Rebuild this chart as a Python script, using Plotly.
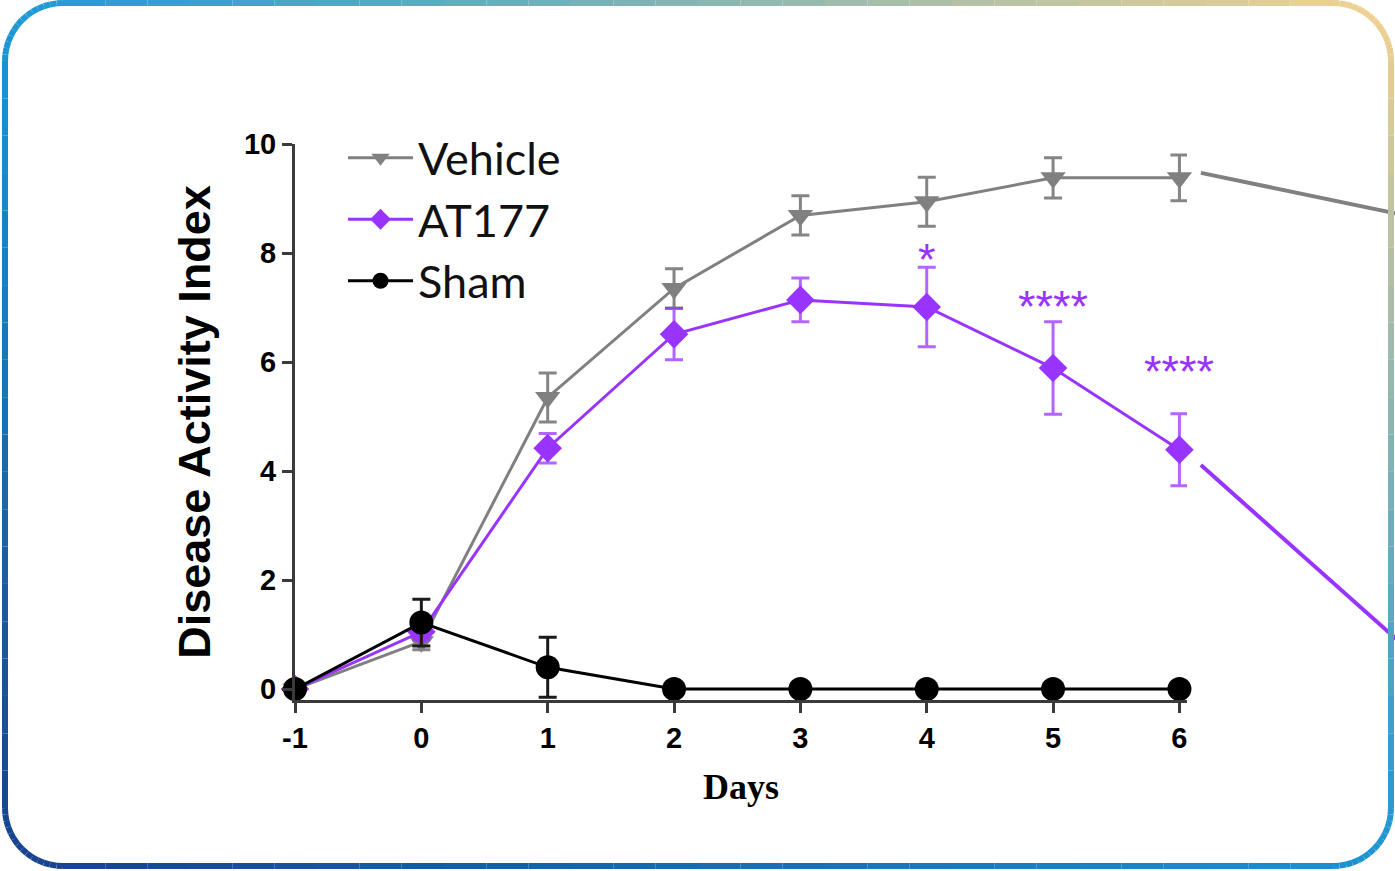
import plotly.graph_objects as go
import math

# ---------------- data ----------------
days = [-1, 0, 1, 2, 3, 4, 5, 6]
day_ticks = ["-1", "0", "1", "2", "3", "4", "5", "6"]

vehicle = [0.0, 0.87, 5.35, 7.35, 8.69, 8.94, 9.38, 9.38]
vehicle_err = [0.0, 0.15, 0.45, 0.36, 0.36, 0.45, 0.37, 0.42]

at177 = [0.0, 1.05, 4.42, 6.51, 7.14, 7.01, 5.89, 4.39]
at177_err = [0.0, 0.15, 0.27, 0.47, 0.40, 0.73, 0.85, 0.66]

sham = [0.0, 1.22, 0.40, 0.0, 0.0, 0.0, 0.0, 0.0]
sham_err = [0.0, 0.43, 0.55, 0.0, 0.0, 0.0, 0.0, 0.0]

sig_days = [4, 5, 6]
sig_labels = ["*", "****", "****"]
sig_y = [8.02, 7.17, 5.98]

# continuation strokes leaving the panel on the right
cont_x = [6.17, 7.75]
vehicle_cont = [9.47, 8.71]
at177_cont = [4.11, 0.85]

yticks = [0, 2, 4, 6, 8, 10]

# ---------------- style ----------------
GRAY = "#808080"
PURPLE = "#9933ff"
BLACK = "#000000"
AXIS = "#3a3a3a"

W, H = 1395, 871
ML, MR, MT, MB = 295, 208, 144, 171
XR = [-1, 6.06]
YR = [-0.2, 10]
PW, PH = W - ML - MR, H - MT - MB

fig = go.Figure()

def add_series(name, y, err, color, symbol, size, ecolor):
    fig.add_trace(go.Scatter(
        x=days, y=y, name=name, mode="lines+markers",
        line=dict(color=color, width=3),
        marker=dict(symbol=symbol, size=size, color=color),
        error_y=dict(type="data", array=err, visible=True, color=ecolor,
                     thickness=3, width=9),
        cliponaxis=False,
    ))

add_series("Vehicle", vehicle, vehicle_err, GRAY, "triangle-down", 22, "#858585")
add_series("AT177", at177, at177_err, PURPLE, "diamond", 22, "rgba(153,51,255,0.75)")
add_series("Sham", sham, sham_err, BLACK, "circle", 24, "#1a1a1a")

for d, lab, yy in zip(sig_days, sig_labels, sig_y):
    fig.add_annotation(x=d, y=yy, text=lab, showarrow=False, yanchor="middle",
                       yshift=-8,
                       font=dict(family="Liberation Sans", size=45, color=PURPLE))

def px2paper(px, py):
    return (px - ML) / PW, (H - MB - py) / PH

def d2paper(x, y):
    return (x - XR[0]) / (XR[1] - XR[0]), (y - YR[0]) / (YR[1] - YR[0])

shapes = []
for ys, col in [(vehicle_cont, GRAY), (at177_cont, PURPLE)]:
    x0, y0 = d2paper(cont_x[0], ys[0])
    x1, y1 = d2paper(cont_x[1], ys[1])
    shapes.append(dict(type="line", xref="paper", yref="paper", x0=x0, y0=y0,
                       x1=x1, y1=y1, line=dict(color=col, width=4), layer="above"))

# rounded gradient border
bx0, by0, bx1, by1, rad = 5, 3, 1391, 866, 58
pts = []
def arc(cx, cy, a0, a1, n=14):
    for i in range(n + 1):
        a = math.radians(a0 + (a1 - a0) * i / n)
        pts.append((cx + rad * math.cos(a), cy + rad * math.sin(a)))
def edge(p, q, n=16):
    for i in range(1, n):
        t = i / n
        pts.append((p[0] + (q[0] - p[0]) * t, p[1] + (q[1] - p[1]) * t))
arc(bx0 + rad, by0 + rad, 180, 270)
edge((bx0 + rad, by0), (bx1 - rad, by0), 30)
arc(bx1 - rad, by0 + rad, 270, 360)
edge((bx1, by0 + rad), (bx1, by1 - rad), 20)
arc(bx1 - rad, by1 - rad, 0, 90)
edge((bx1 - rad, by1), (bx0 + rad, by1), 30)
arc(bx0 + rad, by1 - rad, 90, 180)
edge((bx0, by1 - rad), (bx0, by0 + rad), 20)
pts.append(pts[0])

TL, TR, BL, BR = (27, 154, 214), (244, 210, 144), (23, 64, 142), (26, 148, 212)
def colat(x, y):
    u = (x - bx0) / (bx1 - bx0)
    v = (y - by0) / (by1 - by0)
    c = [TL[k] * (1 - u) * (1 - v) + TR[k] * u * (1 - v) + BL[k] * (1 - u) * v + BR[k] * u * v
         for k in range(3)]
    return "rgb(%d,%d,%d)" % tuple(int(round(t)) for t in c)

for (xa, ya), (xb, yb) in zip(pts[:-1], pts[1:]):
    pa = px2paper(xa, ya)
    pb = px2paper(xb, yb)
    shapes.append(dict(type="line", xref="paper", yref="paper",
                       x0=pa[0], y0=pa[1], x1=pb[0], y1=pb[1],
                       line=dict(color=colat((xa + xb) / 2, (ya + yb) / 2), width=6),
                       layer="above"))

lx, ly = px2paper(343, 122)

fig.update_layout(
    width=W, height=H,
    margin=dict(l=ML, r=MR, t=MT, b=MB),
    paper_bgcolor="white", plot_bgcolor="white",
    shapes=shapes,
    showlegend=True,
    legend=dict(x=lx, y=ly, xanchor="left", yanchor="top",
                bgcolor="rgba(0,0,0,0)",
                font=dict(family="Lato", size=45, color="#111111"),
                itemwidth=65, tracegroupgap=0),
    xaxis=dict(range=XR, tickvals=days, ticktext=day_ticks,
               showline=True, linecolor=AXIS, linewidth=3,
               ticks="outside", ticklen=10, tickwidth=3, tickcolor=AXIS,
               showgrid=False, zeroline=False,
               tickfont=dict(family="Liberation Sans", size=29, color="black", weight="bold"),
               title=dict(text="Days", standoff=22,
                          font=dict(family="Liberation Serif", size=36, color="black",
                                    weight="bold"))),
    yaxis=dict(range=YR, tickvals=yticks,
               showline=True, linecolor=AXIS, linewidth=3,
               ticks="outside", ticklen=10, tickwidth=3, tickcolor=AXIS,
               showgrid=False, zeroline=False,
               tickfont=dict(family="Liberation Sans", size=29, color="black", weight="bold"),
               title=dict(text="Disease Activity Index", standoff=20,
                          font=dict(family="Liberation Sans", size=45, color="black",
                                    weight="bold"))),
)

fig.write_html("out.html", config={"displayModeBar": False},
               post_script="document.body.style.margin='0px';document.body.style.overflow='hidden';")
